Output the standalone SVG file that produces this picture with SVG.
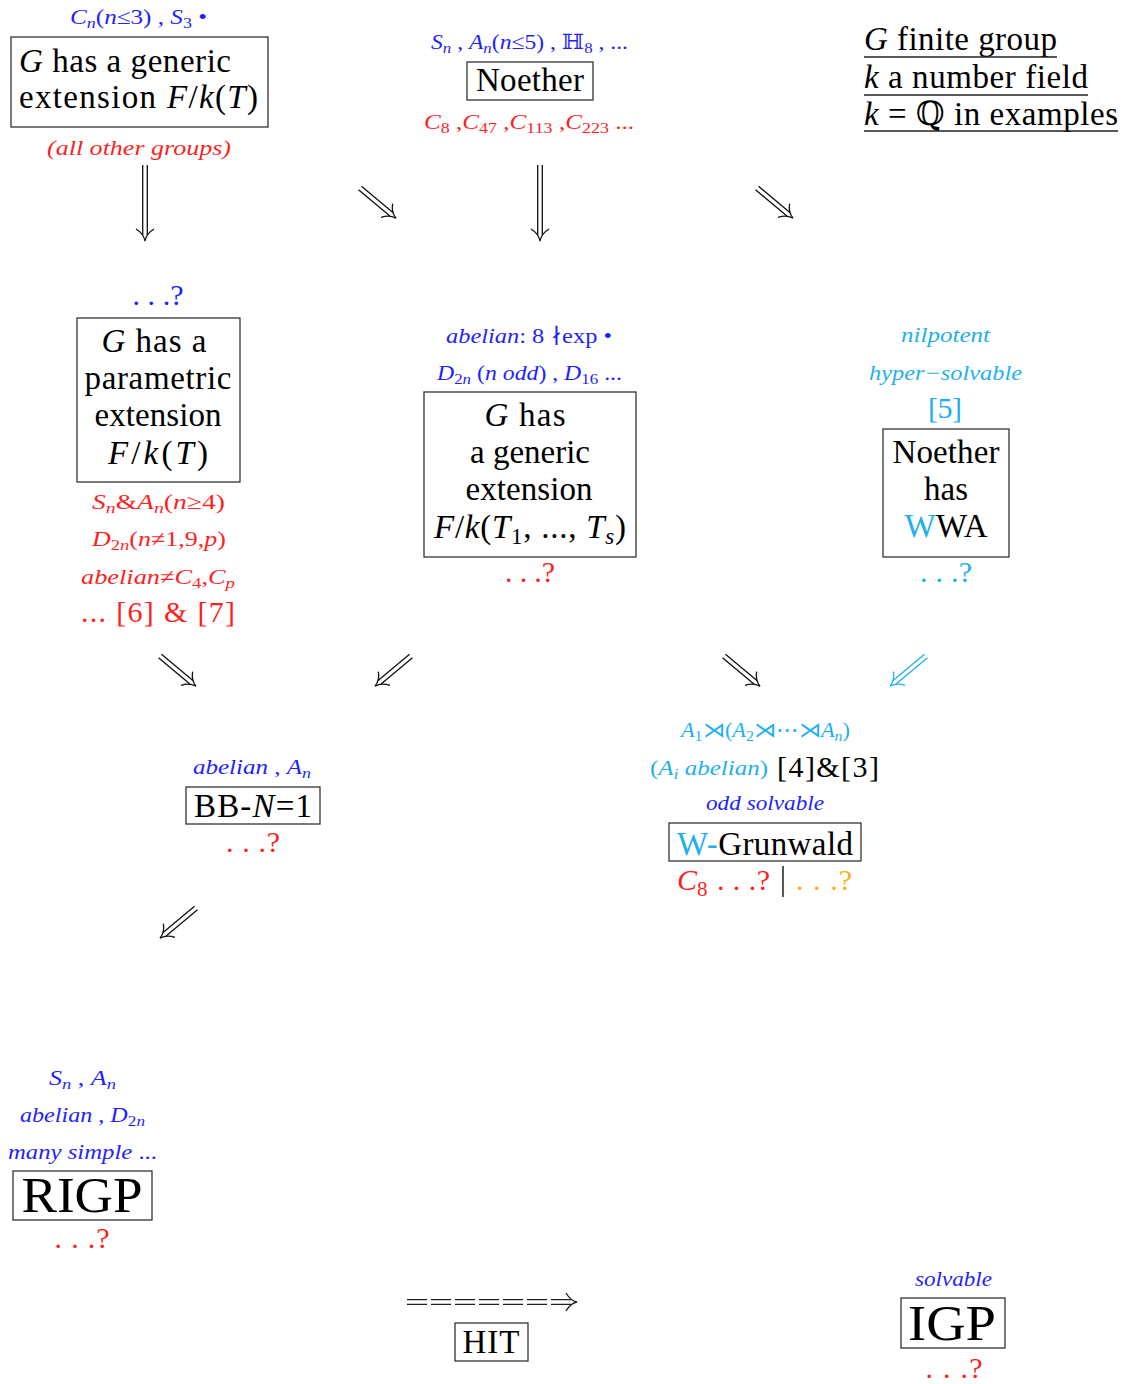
<svg xmlns="http://www.w3.org/2000/svg" xmlns:xlink="http://www.w3.org/1999/xlink" width="1127" height="1384" viewBox="0 0 1127 1384">
<style>
  text { font-family: "Liberation Serif", "DejaVu Serif", serif; fill: #000; }
  .m { font-size: 33px; }
  .big { font-size: 50px; }
  .s { font-size: 21px; }
  .q { font-size: 30px; }
  .i { font-style: italic; }
  .sb { font-size: 15px; }
  .sbl { font-size: 23px; }
  .b { fill: #1f1fff; }
  .r { fill: #ff1f1f; }
  .c { fill: #1eb0ef; }
  .o { fill: #ffae1a; }
  .k { fill: #000; }
  rect.box { fill: none; stroke: #333; stroke-width: 1.3; }
  line.ul { stroke: #222; stroke-width: 1.3; }
</style>
<defs>
  <!-- short double arrow along +x -->
  <g id="ar" fill="none" stroke="currentColor" stroke-width="1.3">
    <path d="M0,-2.3H41M0,2.3H41"/>
    <path d="M35,-9 C38,-4 42,-1 47,0 C42,1 38,4 35,9"/>
  </g>
  <!-- long double arrow along +x -->
  <g id="al" fill="none" stroke="currentColor" stroke-width="1.3">
    <path d="M0,-2.3H70M0,2.3H70"/>
    <path d="M64,-9 C67,-4 71,-1 76,0 C71,1 67,4 64,9"/>
  </g>
</defs>

<!-- connectors -->
<g id="connectors" color="#111">
  <use xlink:href="#al" transform="translate(145,165) rotate(90)"/>
  <use xlink:href="#al" transform="translate(540,165) rotate(90)"/>
  <use xlink:href="#ar" transform="translate(360,188) rotate(40)"/>
  <use xlink:href="#ar" transform="translate(757,188) rotate(40)"/>
  <use xlink:href="#ar" transform="translate(160,656) rotate(40)"/>
  <use xlink:href="#ar" transform="translate(411,656) rotate(140)"/>
  <use xlink:href="#ar" transform="translate(724,656) rotate(40)"/>
  <use xlink:href="#ar" transform="translate(926,656) rotate(140)" color="#1eb0ef"/>
  <use xlink:href="#ar" transform="translate(196,908) rotate(140)"/>
  <g fill="none" stroke="#222" stroke-width="1.3">
    <path d="M407,1299.7H571M407,1304.3H571" stroke-dasharray="20 4"/>
    <path d="M566,1293 C569,1298 572,1301 577,1302 C572,1303 569,1306 566,1311"/>
  </g>
</g>

<!-- generic extension F/k(T) -->
<g id="generic1">
  <text class="s b" x="70" y="24" textLength="137" lengthAdjust="spacingAndGlyphs"><tspan class="i">C</tspan><tspan class="sb i" dy="4">n</tspan><tspan dy="-4">(</tspan><tspan class="i">n</tspan>≤3) , <tspan class="i">S</tspan><tspan class="sb" dy="4">3</tspan><tspan dy="-4"> •</tspan></text>
  <rect class="box" x="11" y="37" width="257" height="90"/>
  <text class="m" x="19" y="72" textLength="212"><tspan class="i">G</tspan> has a generic</text>
  <text class="m" x="19" y="108" textLength="239">extension <tspan class="i">F</tspan>/<tspan class="i">k</tspan>(<tspan class="i">T</tspan>)</text>
  <text class="s r i" x="47" y="155" textLength="184" lengthAdjust="spacingAndGlyphs">(all  other  groups)</text>
</g>

<!-- Noether -->
<g id="noether">
  <text class="s b" x="431" y="49" textLength="197" lengthAdjust="spacingAndGlyphs"><tspan class="i">S</tspan><tspan class="sb i" dy="4">n</tspan><tspan dy="-4"> , </tspan><tspan class="i">A</tspan><tspan class="sb i" dy="4">n</tspan><tspan dy="-4">(</tspan><tspan class="i">n</tspan>≤5) , ℍ<tspan class="sb" dy="4">8</tspan><tspan dy="-4"> , ...</tspan></text>
  <rect class="box" x="467" y="62" width="126" height="38"/>
  <text class="m" x="530" y="91" text-anchor="middle" textLength="108">Noether</text>
  <text class="s r" x="424" y="129" textLength="210" lengthAdjust="spacingAndGlyphs"><tspan class="i">C</tspan><tspan class="sb" dy="4">8</tspan><tspan dy="-4"> ,</tspan><tspan class="i">C</tspan><tspan class="sb" dy="4">47</tspan><tspan dy="-4"> ,</tspan><tspan class="i">C</tspan><tspan class="sb" dy="4">113</tspan><tspan dy="-4"> ,</tspan><tspan class="i">C</tspan><tspan class="sb" dy="4">223</tspan><tspan dy="-4"> ...</tspan></text>
</g>

<!-- legend -->
<g id="legend">
  <text class="m" x="864" y="50" textLength="193"><tspan class="i">G</tspan> finite group</text>
  <line class="ul" x1="864" y1="57" x2="1057" y2="57"/>
  <text class="m" x="864" y="88" textLength="224"><tspan class="i">k</tspan> a number field</text>
  <line class="ul" x1="864" y1="95" x2="1088" y2="95"/>
  <text class="m" x="864" y="125" textLength="254"><tspan class="i">k</tspan> = ℚ in examples</text>
  <line class="ul" x1="864" y1="131" x2="1118" y2="131"/>
</g>

<!-- parametric extension -->
<g id="parametric">
  <text class="q b" x="158" y="305" text-anchor="middle" textLength="51">. . .?</text>
  <rect class="box" x="77" y="318" width="163" height="164"/>
  <text class="m" x="154" y="352" text-anchor="middle" textLength="105"><tspan class="i">G</tspan> has a</text>
  <text class="m" x="158" y="389" text-anchor="middle" textLength="147">parametric</text>
  <text class="m" x="158" y="426" text-anchor="middle" textLength="127">extension</text>
  <text class="m" x="158" y="464" text-anchor="middle" textLength="100"><tspan class="i">F</tspan>/<tspan class="i">k</tspan>(<tspan class="i">T</tspan>)</text>
  <text class="s r" x="92" y="509" textLength="133" lengthAdjust="spacingAndGlyphs"><tspan class="i">S</tspan><tspan class="sb i" dy="4">n</tspan><tspan dy="-4">&amp;</tspan><tspan class="i">A</tspan><tspan class="sb i" dy="4">n</tspan><tspan dy="-4">(</tspan><tspan class="i">n</tspan>≥4)</text>
  <text class="s r" x="92" y="546" textLength="134" lengthAdjust="spacingAndGlyphs"><tspan class="i">D</tspan><tspan class="sb" dy="4">2<tspan class="i">n</tspan></tspan><tspan dy="-4">(</tspan><tspan class="i">n</tspan>≠1,9,<tspan class="i">p</tspan>)</text>
  <text class="s r" x="81" y="584" textLength="154" lengthAdjust="spacingAndGlyphs"><tspan class="i">abelian</tspan>≠<tspan class="i">C</tspan><tspan class="sb" dy="4">4</tspan><tspan dy="-4">,</tspan><tspan class="i">C</tspan><tspan class="sb i" dy="4">p</tspan></text>
  <text class="q r" x="81" y="622" textLength="154">...  [6] &amp; [7]</text>
</g>

<!-- generic extension F/k(T1,...,Ts) -->
<g id="generic-s">
  <text class="s b" x="446" y="343" textLength="166" lengthAdjust="spacingAndGlyphs"><tspan class="i">abelian</tspan>: 8 ∤exp •</text>
  <text class="s b" x="437" y="380" textLength="185" lengthAdjust="spacingAndGlyphs"><tspan class="i">D</tspan><tspan class="sb" dy="4">2<tspan class="i">n</tspan></tspan><tspan dy="-4"> (</tspan><tspan class="i">n odd</tspan>) , <tspan class="i">D</tspan><tspan class="sb" dy="4">16</tspan><tspan dy="-4"> ...</tspan></text>
  <rect class="box" x="424" y="392" width="212" height="165"/>
  <text class="m" x="525" y="426" text-anchor="middle" textLength="81"><tspan class="i">G</tspan> has</text>
  <text class="m" x="530" y="463" text-anchor="middle" textLength="120">a generic</text>
  <text class="m" x="529" y="500" text-anchor="middle" textLength="127">extension</text>
  <text class="m" x="530" y="538" text-anchor="middle" textLength="192"><tspan class="i">F</tspan>/<tspan class="i">k</tspan>(<tspan class="i">T</tspan><tspan class="sbl" dy="6">1</tspan><tspan dy="-6">, ..., </tspan><tspan class="i">T</tspan><tspan class="sbl i" dy="6">s</tspan><tspan dy="-6">)</tspan></text>
  <text class="q r" x="530" y="582" text-anchor="middle" textLength="50">. . .?</text>
</g>

<!-- Noether has WWA -->
<g id="wwa">
  <text class="s c i" x="901" y="342" textLength="89" lengthAdjust="spacingAndGlyphs">nilpotent</text>
  <text class="s c i" x="869" y="380" textLength="153" lengthAdjust="spacingAndGlyphs">hyper−solvable</text>
  <text class="q c" x="945" y="418" text-anchor="middle" textLength="34">[5]</text>
  <rect class="box" x="883" y="429" width="126" height="128"/>
  <text class="m" x="946" y="463" text-anchor="middle" textLength="107">Noether</text>
  <text class="m" x="946" y="500" text-anchor="middle" textLength="44">has</text>
  <text class="m" x="946" y="537" text-anchor="middle" textLength="83"><tspan class="c">W</tspan>WA</text>
  <text class="q c" x="946" y="582" text-anchor="middle" textLength="52">. . .?</text>
</g>

<!-- BB-N=1 -->
<g id="bbn">
  <text class="s b" x="193" y="774" textLength="118" lengthAdjust="spacingAndGlyphs"><tspan class="i">abelian</tspan> , <tspan class="i">A</tspan><tspan class="sb i" dy="4">n</tspan></text>
  <rect class="box" x="186" y="787" width="134" height="37"/>
  <text class="m" x="253" y="817" text-anchor="middle" textLength="118">BB-<tspan class="i">N</tspan>=1</text>
  <text class="q r" x="253" y="852" text-anchor="middle" textLength="54">. . .?</text>
</g>

<!-- W-Grunwald -->
<g id="grunwald">
  <text class="s c" x="681" y="737" textLength="169" lengthAdjust="spacingAndGlyphs"><tspan class="i">A</tspan><tspan class="sb" dy="4">1</tspan><tspan dy="-4">⋊(</tspan><tspan class="i">A</tspan><tspan class="sb" dy="4">2</tspan><tspan dy="-4">⋊⋯⋊</tspan><tspan class="i">A</tspan><tspan class="sb i" dy="4">n</tspan><tspan dy="-4">)</tspan></text>
  <text class="s c" x="650" y="775" textLength="118" lengthAdjust="spacingAndGlyphs">(<tspan class="i">A</tspan><tspan class="sb i" dy="4">i</tspan><tspan class="i" dy="-4"> abelian</tspan>)</text>
  <text class="q k" x="777" y="777" textLength="102">[4]&amp;[3]</text>
  <text class="s b i" x="706" y="810" textLength="118" lengthAdjust="spacingAndGlyphs">odd solvable</text>
  <rect class="box" x="669" y="823" width="192" height="38"/>
  <text class="m" x="765" y="855" text-anchor="middle" textLength="176"><tspan class="c">W-</tspan>Grunwald</text>
  <text class="q r" x="677" y="890"><tspan class="i">C</tspan><tspan font-size="21" dy="6">8</tspan></text>
  <text class="q r" x="717" y="890" textLength="53">. . .?</text>
  <line x1="783" y1="866" x2="783" y2="897" stroke="#111" stroke-width="1.4"/>
  <text class="q o" x="796" y="890" textLength="56">. . .?</text>
</g>

<!-- RIGP -->
<g id="rigp">
  <text class="s b" x="49" y="1085" textLength="67" lengthAdjust="spacingAndGlyphs"><tspan class="i">S</tspan><tspan class="sb i" dy="4">n</tspan><tspan dy="-4"> , </tspan><tspan class="i">A</tspan><tspan class="sb i" dy="4">n</tspan></text>
  <text class="s b" x="20" y="1122" textLength="125" lengthAdjust="spacingAndGlyphs"><tspan class="i">abelian</tspan> , <tspan class="i">D</tspan><tspan class="sb" dy="4">2<tspan class="i">n</tspan></tspan></text>
  <text class="s b" x="8" y="1159" textLength="149" lengthAdjust="spacingAndGlyphs"><tspan class="i">many simple</tspan> ...</text>
  <rect class="box" x="13" y="1171" width="139" height="49"/>
  <text class="big" x="82" y="1212" text-anchor="middle" textLength="121" lengthAdjust="spacingAndGlyphs">RIGP</text>
  <text class="q r" x="82" y="1248" text-anchor="middle" textLength="55">. . .?</text>
</g>

<!-- HIT -->
<g id="hit">
  <rect class="box" x="455" y="1323" width="73" height="38"/>
  <text class="m" x="491" y="1353" text-anchor="middle" textLength="57">HIT</text>
</g>

<!-- IGP -->
<g id="igp">
  <text class="s b i" x="915" y="1286" textLength="77" lengthAdjust="spacingAndGlyphs">solvable</text>
  <rect class="box" x="901" y="1298" width="104" height="50"/>
  <text class="big" x="952" y="1340" text-anchor="middle" textLength="88" lengthAdjust="spacingAndGlyphs">IGP</text>
  <text class="q r" x="954" y="1378" text-anchor="middle" textLength="57">. . .?</text>
</g>
</svg>
